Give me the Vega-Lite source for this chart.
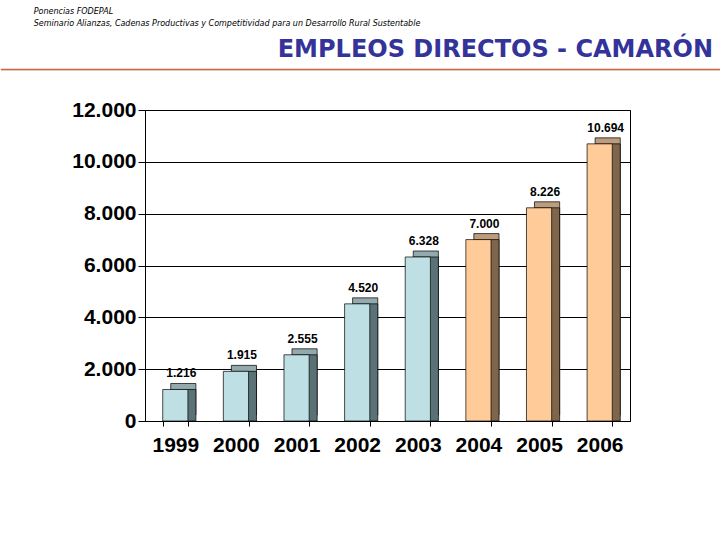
{
  "$schema": "https://vega.github.io/schema/vega-lite/v6.json",
  "background": "white",
  "padding": {"left": 0, "top": 7, "right": 0, "bottom": 0},
  "title": {
    "text": ["Ponencias FODEPAL", "Seminario Alianzas, Cadenas Productivas y Competitividad para un Desarrollo Rural Sustentable"],
    "anchor": "start",
    "frame": "bounds",
    "dx": 33,
    "fontSize": 8,
    "font": "DejaVu Sans",
    "fontStyle": "italic",
    "fontWeight": "normal",
    "color": "black",
    "lineHeight": 12,
    "offset": 10
  },
  "spacing": 27,
  "config": {
    "locale": {"number": {"decimal": ",", "thousands": ".", "grouping": [3], "currency": ["", ""]}},
    "axis": {"labelFont": "Liberation Sans", "labelFontWeight": "bold", "labelColor": "black", "domainColor": "black", "tickColor": "black"}
  },
  "vconcat": [
    {
      "data": {"values": []},
      "mark": "point",
      "encoding": {},
      "width": 720,
      "height": 1,
      "view": {"stroke": "#C8643C", "fill": "#C8643C", "strokeWidth": 0.6},
      "title": {
        "text": "EMPLEOS DIRECTOS - CAMARÓN",
        "anchor": "end",
        "dx": -8,
        "fontSize": 24,
        "font": "DejaVu Sans",
        "fontWeight": "bold",
        "color": "#333399",
        "offset": 7
      }
    },
    {
      "spacing": 10,
      "hconcat": [
        {
          "data": {"values": []},
          "mark": "point",
          "encoding": {},
          "width": 60,
          "height": 311,
          "view": {"stroke": null}
        },
        {
          "data": {"values": [
            {"anio": "1999", "empleos": 1216, "tipo": "real"},
            {"anio": "2000", "empleos": 1915, "tipo": "real"},
            {"anio": "2001", "empleos": 2555, "tipo": "real"},
            {"anio": "2002", "empleos": 4520, "tipo": "real"},
            {"anio": "2003", "empleos": 6328, "tipo": "real"},
            {"anio": "2004", "empleos": 7000, "tipo": "proy"},
            {"anio": "2005", "empleos": 8226, "tipo": "proy"},
            {"anio": "2006", "empleos": 10694, "tipo": "proy"}
          ]},
          "width": 485,
          "height": 311,
          "view": {"stroke": "black", "strokeWidth": 1},
          "encoding": {
            "x": {
              "field": "anio", "type": "ordinal",
              "scale": {"paddingInner": 0.585, "paddingOuter": 0.2925},
              "axis": {"title": null, "labelAngle": 0, "labelFontSize": 21, "labelPadding": 8, "tickSize": 5, "tickBand": "extent", "grid": false}
            },
            "y": {
              "field": "empleos", "type": "quantitative",
              "scale": {"domain": [0, 12000]},
              "axis": {"title": null, "values": [0, 2000, 4000, 6000, 8000, 10000, 12000], "format": ",d", "labelFontSize": 21, "labelPadding": 2, "tickSize": 7, "grid": true, "gridColor": "black", "gridOpacity": 1, "gridWidth": 1}
            }
          },
          "layer": [
            {
              "mark": {"type": "bar", "xOffset": 8, "yOffset": -6, "y2Offset": -6, "stroke": "black", "strokeWidth": 0.7},
              "encoding": {"color": {"field": "tipo", "type": "nominal", "scale": {"domain": ["real", "proy"], "range": ["#93AAAD", "#BC9C7C"]}, "legend": null}}
            },
            {
              "mark": {"type": "bar", "xOffset": 8, "y2Offset": -6, "stroke": "black", "strokeWidth": 0.7},
              "encoding": {"color": {"field": "tipo", "type": "nominal", "scale": {"domain": ["real", "proy"], "range": ["#5A7276", "#7F654B"]}, "legend": null}}
            },
            {
              "mark": {"type": "bar", "stroke": "black", "strokeWidth": 0.7},
              "encoding": {"color": {"field": "tipo", "type": "nominal", "scale": {"domain": ["real", "proy"], "range": ["#BEE0E4", "#FFCC99"]}, "legend": null}}
            },
            {
              "mark": {"type": "text", "baseline": "bottom", "dy": -9, "dx": 6, "font": "Liberation Sans", "fontWeight": "bold", "fontSize": 12, "color": "black"},
              "encoding": {"text": {"field": "empleos", "type": "quantitative", "format": ",d"}}
            }
          ],
          "resolve": {"scale": {"color": "independent"}}
        }
      ]
    }
  ]
}
